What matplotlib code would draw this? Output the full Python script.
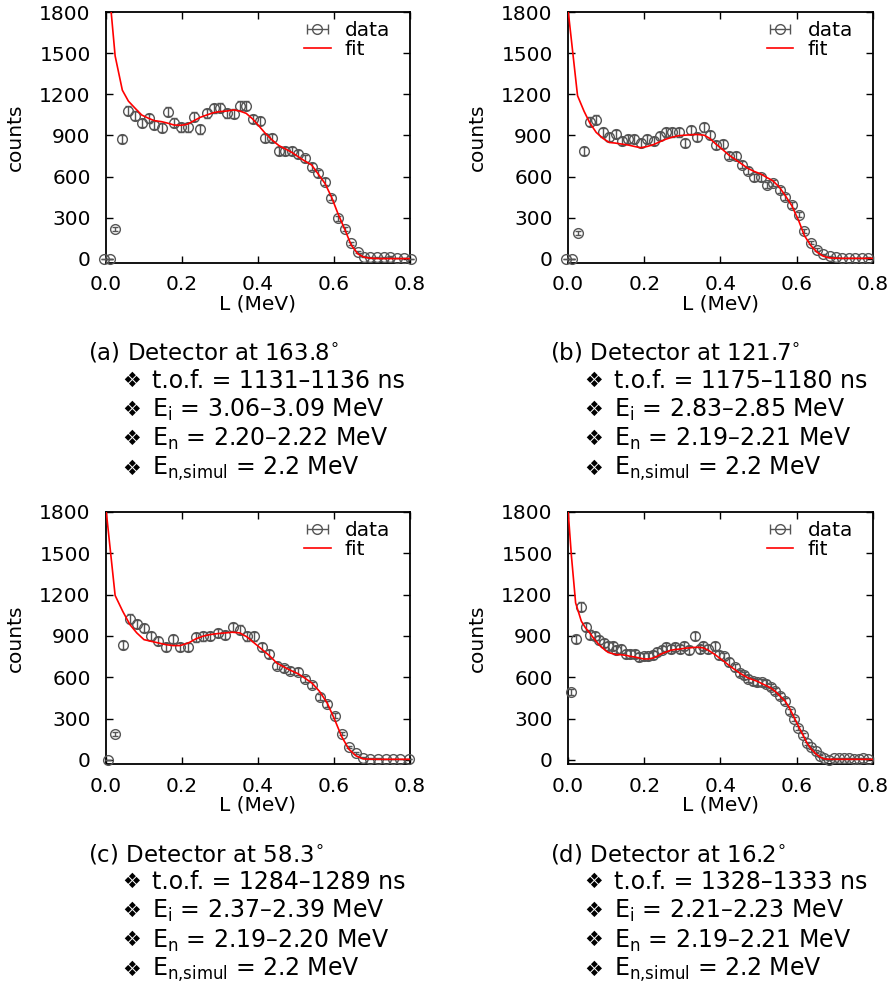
import numpy as np
import matplotlib
matplotlib.use("Agg")
import matplotlib.pyplot as plt

# ---- panel (a) ----
xa = [-0.004, 0.011, 0.024, 0.043, 0.059, 0.076, 0.094, 0.112, 0.127, 0.147, 0.163, 0.179, 0.198, 0.215, 0.232, 0.248,
      0.265, 0.283, 0.300, 0.318, 0.336, 0.352, 0.369, 0.386, 0.404, 0.419, 0.437, 0.455, 0.472, 0.490, 0.505, 0.523,
      0.541, 0.557, 0.576, 0.593, 0.610, 0.629, 0.645, 0.663, 0.679, 0.696, 0.714, 0.731, 0.747, 0.765, 0.785, 0.802]
ya = [0, 0, 219, 872, 1081, 1044, 989, 1025, 976, 957, 1074, 993, 959, 959, 1037, 945,
      1061, 1098, 1103, 1061, 1057, 1117, 1117, 1020, 1006, 884, 884, 789, 789, 789, 765, 734,
      673, 624, 563, 447, 296, 216, 114, 53, 17, 12, 12, 12, 17, 7, 5, 0]
ea = [0, 0, 15, 30, 33, 32, 31, 32, 31, 31, 33, 32, 31, 31, 32, 31,
      33, 33, 33, 33, 33, 33, 33, 32, 32, 30, 30, 28, 28, 28, 28, 27,
      26, 25, 24, 21, 17, 15, 11, 7, 4, 3, 3, 3, 4, 3, 2, 0]
xfa = xa[1:]
fa = [1880, 1480, 1230, 1150, 1100, 1049, 1025, 1008, 1000, 989, 976, 974, 983, 1008, 1032,
      1049, 1066, 1074, 1078, 1086, 1078, 1061, 1020, 964, 916, 867, 826, 802, 775, 746, 714,
      685, 624, 551, 454, 333, 211, 102, 36, 12, 5, 3, 2, 2, 2, 2, 2]

# ---- panel (b) ----
xb = [-0.004, 0.011, 0.025, 0.042, 0.057, 0.074, 0.092, 0.108, 0.125, 0.141, 0.158, 0.174, 0.191, 0.208, 0.225, 0.241,
      0.257, 0.274, 0.290, 0.307, 0.323, 0.339, 0.357, 0.372, 0.388, 0.406, 0.422, 0.440, 0.456, 0.472, 0.488, 0.506,
      0.521, 0.537, 0.555, 0.570, 0.587, 0.605, 0.620, 0.637, 0.653, 0.670, 0.686, 0.704, 0.720, 0.738, 0.754, 0.771, 0.787]
yb = [0, 0, 189, 786, 1000, 1014, 922, 891, 910, 861, 873, 873, 844, 873, 861, 898,
      922, 922, 922, 844, 941, 886, 958, 902, 832, 837, 752, 752, 687, 643, 594, 594,
      541, 553, 505, 449, 393, 323, 206, 116, 68, 32, 19, 12, 7, 7, 7, 7, 10]
eb = [0, 0, 14, 28, 32, 32, 30, 30, 30, 29, 30, 30, 29, 30, 29, 30,
      30, 30, 30, 29, 31, 30, 31, 30, 29, 29, 27, 27, 26, 25, 24, 24,
      23, 24, 22, 21, 20, 18, 14, 11, 8, 6, 4, 3, 3, 3, 3, 3, 3]
xfb = [0.0] + xb[2:] + [0.8]
fb = [1820, 1190, 1077, 992, 922, 878, 849, 844, 837, 830, 820, 810, 820, 834, 854,
      873, 888, 898, 902, 905, 907, 902, 878, 837, 796, 757, 723, 691, 660, 638,
      619, 594, 570, 521, 461, 388, 279, 170, 97, 49, 19, 7, 5, 4, 4, 4, 4, 4, 4]

# ---- panel (c) ----
xc = [0.004, 0.024, 0.044, 0.063, 0.081, 0.100, 0.119, 0.138, 0.157, 0.176, 0.195, 0.217, 0.236, 0.255, 0.274,
      0.294, 0.314, 0.333, 0.352, 0.371, 0.390, 0.411, 0.430, 0.449, 0.468, 0.485, 0.505, 0.523, 0.542,
      0.562, 0.582, 0.602, 0.620, 0.639, 0.658, 0.677, 0.696, 0.716, 0.736, 0.756, 0.775, 0.797]
yc = [0, 189, 836, 1024, 988, 957, 901, 860, 823, 876, 823, 823, 889, 896, 901,
      920, 908, 964, 945, 896, 896, 823, 769, 684, 665, 648, 640, 587, 543,
      458, 405, 320, 191, 94, 51, 17, 7, 7, 5, 5, 5, 5]
ec = [0, 14, 29, 32, 31, 31, 30, 29, 29, 30, 29, 29, 30, 30, 30,
      30, 30, 31, 31, 30, 30, 29, 28, 26, 26, 25, 25, 24, 23,
      21, 20, 18, 14, 10, 7, 4, 3, 3, 2, 2, 2, 2]
xfc = [0.0] + xc[1:] + [0.8]
fc = [1820, 1194, 1079, 982, 922, 873, 861, 849, 837, 830, 830, 849, 878, 898, 910,
      917, 922, 927, 922, 893, 849, 801, 757, 704, 675, 651, 626, 594, 558, 497,
      413, 291, 170, 78, 29, 7, 5, 4, 4, 4, 4, 4, 4]

# ---- panel (d) ----
xd = [0.009, 0.020, 0.035, 0.046, 0.057, 0.070, 0.081, 0.094, 0.105, 0.117, 0.127, 0.139, 0.152, 0.163, 0.175,
      0.187, 0.199, 0.211, 0.224, 0.234, 0.246, 0.257, 0.269, 0.281, 0.293, 0.305, 0.317, 0.333, 0.345, 0.355,
      0.368, 0.386, 0.397, 0.409, 0.423, 0.438, 0.450, 0.462, 0.473, 0.485, 0.497, 0.509, 0.520, 0.532, 0.544,
      0.557, 0.570, 0.581, 0.592, 0.604, 0.616, 0.627, 0.638, 0.650, 0.662, 0.672, 0.684, 0.697, 0.710, 0.723,
      0.736, 0.749, 0.762, 0.775, 0.788]
yd = [490, 878, 1111, 966, 910, 898, 873, 849, 825, 825, 801, 805, 771, 771, 771,
      747, 752, 752, 764, 781, 801, 820, 805, 820, 805, 825, 796, 898, 805, 825,
      805, 825, 764, 752, 711, 672, 631, 614, 590, 570, 563, 563, 553, 529, 497,
      461, 425, 352, 296, 230, 182, 121, 92, 61, 29, 12, 0, 12, 12, 12,
      12, 7, 7, 12, 7]
ed = [22, 30, 33, 31, 30, 30, 30, 29, 29, 29, 28, 28, 28, 28, 28,
      27, 27, 27, 28, 28, 28, 29, 28, 29, 28, 29, 28, 30, 28, 29,
      28, 29, 28, 27, 27, 26, 25, 25, 24, 24, 24, 24, 24, 23, 22,
      21, 21, 19, 17, 15, 13, 11, 10, 8, 5, 3, 0, 3, 3, 3,
      3, 3, 3, 3, 3]
xfd = [0.0] + xd + [0.8]
fd = [1820, 1480, 1140, 1007, 958, 922, 873, 837, 805, 781, 771, 764, 764, 759, 752, 747,
      740, 733, 733, 740, 752, 771, 783, 796, 801, 805, 810, 813, 817, 817, 813,
      796, 764, 740, 716, 684, 655, 631, 611, 594, 582, 570, 553, 539, 522, 497,
      461, 425, 376, 315, 247, 182, 121, 78, 44, 19, 7, 5, 4, 4, 4, 4, 4, 4, 4, 4, 4]

angles = ["163.8", "121.7", "58.3", "16.2"]
tofs = ["1131–1136", "1175–1180", "1284–1289", "1328–1333"]
eis = ["3.06–3.09", "2.83–2.85", "2.37–2.39", "2.21–2.23"]
ens = ["2.20–2.22", "2.19–2.21", "2.19–2.20", "2.19–2.21"]
tags = ["a", "b", "c", "d"]

panels = [(xa, ya, ea, xfa, fa), (xb, yb, eb, xfb, fb), (xc, yc, ec, xfc, fc), (xd, yd, ed, xfd, fd)]

W, H = 895, 984
fig = plt.figure(figsize=(W / 100, H / 100), dpi=100)
plt.rcParams['font.size'] = 14.5

# axes boxes in pixels: left, top, right, bottom
boxes = [(106, 12, 410, 263), (568, 12, 873, 263), (106, 512, 410, 764), (568, 512, 873, 764)]
gray = '#555555'
mk = dict(fmt='o', mfc='none', mec=gray, ms=7, mew=1.0, ecolor=gray, elinewidth=1.0, capthick=1.0)

for i, (x, y, e, xf, f) in enumerate(panels):
    l, t, r, b = boxes[i]
    ax = fig.add_axes([l / W, 1 - b / H, (r - l) / W, (b - t) / H])
    ax.errorbar(x, y, yerr=e, capsize=2.5, clip_on=False, zorder=3, **mk)
    ax.plot(xf, f, color='red', lw=1.2, zorder=4)
    # legend proxies (horizontal error bar sample, as in the original)
    hd = ax.errorbar([np.nan], [np.nan], xerr=[0.1], capsize=3.5, label='data', **mk)
    hf, = ax.plot([], [], color='red', lw=1.2, label='fit')
    ax.legend(handles=[hd, hf], loc='upper right', bbox_to_anchor=(1 - 20 / 304, 1 - 9 / 251),
              frameon=False, fontsize=14.5, handlelength=1.3, handletextpad=0.7,
              labelspacing=0.0, borderaxespad=0, borderpad=0)
    ax.set_xlim(0, 0.8)
    ax.set_ylim(-30, 1800)
    ax.set_xticks([0.0, 0.2, 0.4, 0.6, 0.8])
    ax.set_xticklabels(['0.0', '0.2', '0.4', '0.6', '0.8'])
    ax.set_yticks([0, 300, 600, 900, 1200, 1500, 1800])
    ax.tick_params(direction='in', length=5, width=1.0, top=True, right=True, labelsize=14.5)
    ax.tick_params(axis='y', pad=11)
    ax.tick_params(axis='x', pad=9)
    for s in ax.spines.values():
        s.set_linewidth(1.3)
    ax.set_xlabel('L (MeV)', labelpad=0)
    ax.set_ylabel('counts', labelpad=10)

    # caption
    cx = l - 18
    cy = b + 90
    fig.text(cx / W, 1 - cy / H, f'({tags[i]}) Detector at {angles[i]}' + r'$^{\circ}$',
             fontsize=16.5, va='center', ha='left')
    lines = [f't.o.f. = {tofs[i]} ns',
             r'E$_{\mathrm{i}}$ = ' + eis[i] + ' MeV',
             r'E$_{\mathrm{n}}$ = ' + ens[i] + ' MeV',
             r'E$_{\mathrm{n{,}simul}}$ = 2.2 MeV']
    for k, s in enumerate(lines):
        yy = 1 - (cy + 28 + 29.2 * k) / H
        fig.text((cx + 34) / W, yy, '❖', fontsize=15, va='center', ha='left')
        fig.text((cx + 64) / W, yy, s, fontsize=17, va='center', ha='left')

fig.savefig('out.png', dpi=100)
